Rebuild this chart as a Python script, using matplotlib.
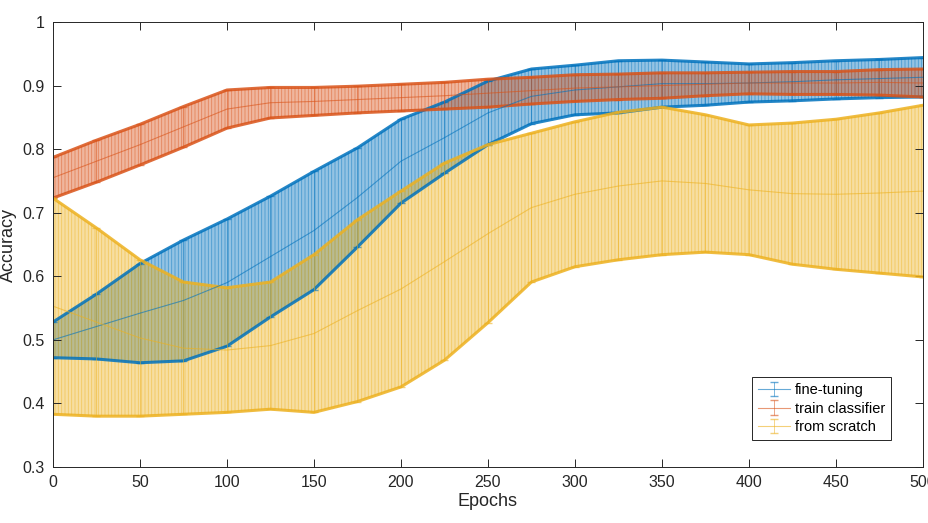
import numpy as np
import matplotlib.pyplot as plt
from matplotlib.ticker import FormatStrFormatter

plt.rcParams['font.family'] = ['Liberation Sans', 'DejaVu Sans']
plt.rcParams['hatch.linewidth'] = 0.6

epochs = np.arange(0, 501, 25)

# fine-tuning: mean and half error
ft_mean = [0.500, 0.521, 0.542, 0.562, 0.590, 0.631, 0.672, 0.724, 0.781, 0.818, 0.857,
           0.883, 0.893, 0.898, 0.903, 0.903, 0.904, 0.906, 0.909, 0.911, 0.913]
ft_err = [0.028, 0.051, 0.078, 0.095, 0.100, 0.095, 0.093, 0.078, 0.066, 0.056, 0.050,
          0.043, 0.039, 0.041, 0.037, 0.034, 0.030, 0.030, 0.030, 0.030, 0.031]

# train classifier
tc_mean = [0.755, 0.781, 0.807, 0.835, 0.863, 0.873, 0.875, 0.878, 0.881, 0.884, 0.888,
           0.892, 0.896, 0.898, 0.900, 0.902, 0.904, 0.904, 0.904, 0.905, 0.904]
tc_err = [0.032, 0.033, 0.032, 0.032, 0.030, 0.024, 0.022, 0.021, 0.021, 0.021, 0.022,
          0.021, 0.021, 0.020, 0.020, 0.018, 0.017, 0.018, 0.018, 0.020, 0.022]

# from scratch
fs_mean = [0.553, 0.528, 0.503, 0.487, 0.484, 0.491, 0.510, 0.546, 0.580, 0.623, 0.667,
           0.708, 0.729, 0.742, 0.750, 0.746, 0.736, 0.730, 0.729, 0.731, 0.734]
fs_err = [0.170, 0.148, 0.123, 0.104, 0.098, 0.100, 0.124, 0.143, 0.154, 0.155, 0.140,
          0.117, 0.114, 0.116, 0.116, 0.108, 0.102, 0.111, 0.118, 0.126, 0.135]

labels = ['fine-tuning', 'train classifier', 'from scratch']
colors = ['#0072BD', '#D95319', '#EDB120']

fig = plt.figure(figsize=(9.29, 5.23), dpi=100)
ax = fig.add_axes([0.057, 0.107, 0.9365, 0.851])

series = [(ft_mean, ft_err), (tc_mean, tc_err), (fs_mean, fs_err)]
for (m, e), lab, c in zip(series, labels, colors):
    m = np.array(m)
    e = np.array(e)
    lo, hi = m - e, m + e
    # dense bars look like a hatched band
    ax.fill_between(epochs, lo, hi, facecolor=c, alpha=0.42, linewidth=0)
    ax.fill_between(epochs, lo, hi, facecolor='none', edgecolor=c, hatch='|||||',
                    alpha=0.5, linewidth=0)
    ax.plot(epochs, hi, color=c, lw=2.2, alpha=0.85)
    ax.plot(epochs, lo, color=c, lw=2.2, alpha=0.85)
    ax.errorbar(epochs, m, yerr=e, color=c, lw=0.8, elinewidth=0.6,
                capsize=3, alpha=0.6, label=lab)

ax.set_xlim(0, 500)
ax.set_ylim(0.3, 1.0)
ax.set_xticks(np.arange(0, 501, 50))
ax.set_yticks(np.arange(0.3, 1.01, 0.1))
ax.yaxis.set_major_formatter(FormatStrFormatter('%g'))
ax.tick_params(direction='in', top=True, right=True, length=6, width=0.7,
               labelsize=11.5, colors='#262626', pad=6)
for s in ax.spines.values():
    s.set_color('#262626')
    s.set_linewidth(0.7)

ax.set_xlabel('Epochs', fontsize=13, color='#262626', labelpad=2)
ax.set_ylabel('Accuracy', fontsize=13, color='#262626', labelpad=4)

leg = ax.legend(loc='lower right', bbox_to_anchor=(0.963, 0.061), borderaxespad=0,
                fontsize=10.5, fancybox=False, framealpha=1, edgecolor='#262626',
                handlelength=2.2, handletextpad=0.3, borderpad=0.4, labelspacing=0.3)
leg.get_frame().set_linewidth(0.7)

plt.savefig('out.png', dpi=100)
